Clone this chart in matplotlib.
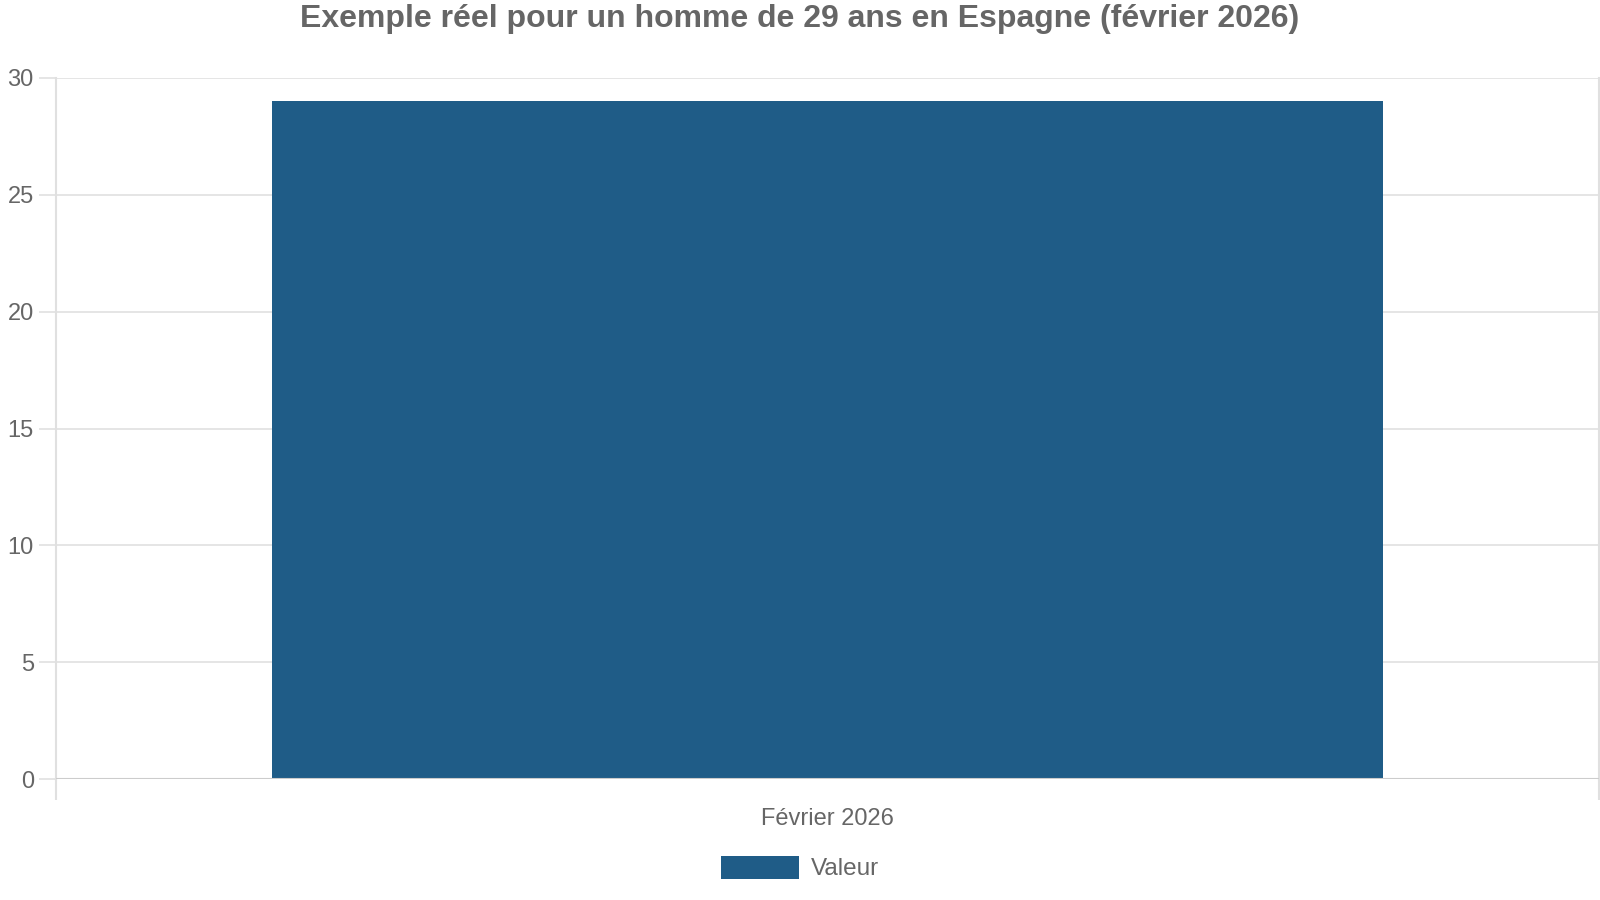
import matplotlib.pyplot as plt
import numpy as np

plt.rcParams['font.family'] = ['Liberation Sans', 'DejaVu Sans']

categories = ['Février 2026']
values = [29]
series_name = 'Valeur'
title = 'Exemple réel pour un homme de 29 ans en Espagne (février 2026)'

text_color = '#666666'
grid_color = '#e0e0e0'
bar_color = '#1f5c87'

fig = plt.figure(figsize=(16, 9), dpi=100)
ax = fig.add_axes([56 / 1600, 1 - 779 / 900, 1543 / 1600, 701 / 900])

x = np.arange(len(categories))
ax.bar(x, values, width=0.72, color=bar_color, label=series_name, zorder=3)

ax.set_xlim(-0.5, len(categories) - 0.5)
ax.set_ylim(0, 30)
ax.set_yticks(np.arange(0, 31, 5))
ax.set_xticks(x)
ax.set_xticklabels(categories)
ax.set_xticks(np.arange(len(categories) + 1) - 0.5, minor=True)

ax.grid(axis='y', color=grid_color, linewidth=1.2, zorder=0)
for side in ['top', 'bottom']:
    ax.spines[side].set_visible(False)
for side in ['left', 'right']:
    ax.spines[side].set_color(grid_color)
    ax.spines[side].set_linewidth(1.5)
ax.axhline(0, color='#cccccc', linewidth=1.5, zorder=4)

ax.tick_params(axis='y', length=12, color=grid_color, width=1.2,
               labelsize=17, labelcolor=text_color, pad=4)
ax.tick_params(axis='x', which='major', length=0, labelsize=17,
               labelcolor=text_color, pad=21)
ax.tick_params(axis='x', which='minor', length=15, color=grid_color, width=1.5)

fig.suptitle(title, y=1 - 19 / 900, va='center', fontsize=23,
             fontweight='bold', color=text_color)

leg = fig.legend(loc='center', bbox_to_anchor=(0.5, 1 - 868 / 900), frameon=False,
                 fontsize=17.5, handlelength=3.2, handleheight=1.1,
                 labelcolor=text_color, handletextpad=0.5)

fig.savefig('out.png', dpi=100)
